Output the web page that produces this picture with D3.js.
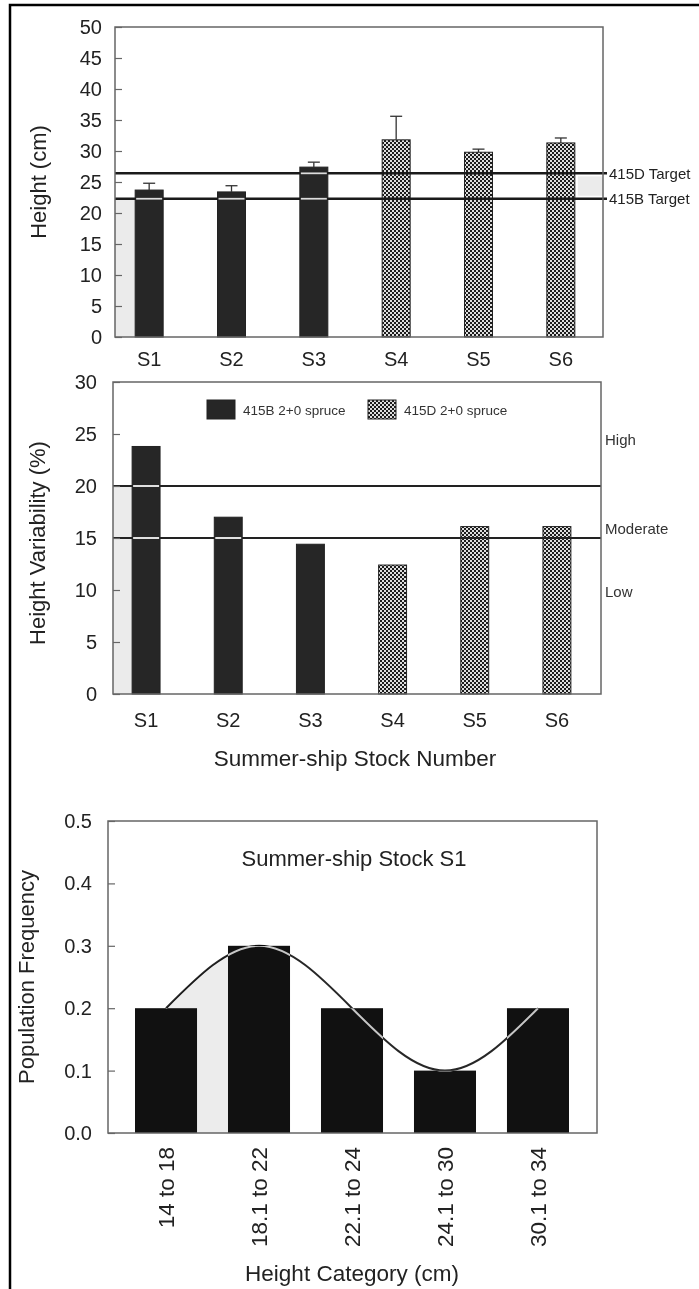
<!DOCTYPE html>
<html>
<head>
<meta charset="utf-8">
<script src="https://cdn.jsdelivr.net/npm/d3@7"></script>
<style>
  body { margin: 0; background: #fff; }
  svg { display: block; font-family: "Liberation Sans", Arial, Helvetica, sans-serif; }
</style>
</head>
<body>
<svg width="699" height="1289"></svg>
<script>
// ---- data ----
var stocks = ["S1", "S2", "S3", "S4", "S5", "S6"];
var stockType = ["B", "B", "B", "D", "D", "D"];
var seriesNames = ["415B 2+0 spruce", "415D 2+0 spruce"];

var heightMean = [23.7, 23.4, 27.4, 31.8, 29.8, 31.3];
var heightErr = [1.1, 1.0, 0.8, 3.8, 0.5, 0.8];
var targetNames = ["415D Target", "415B Target"];
var targetValues = [26.4, 22.3];

var variability = [23.8, 17.0, 14.4, 12.4, 16.1, 16.1];
var classLimits = [20, 15];
var classNames = ["High", "Moderate", "Low"];
var classLabelAt = [24.4, 15.9, 9.8];

var heightCats = ["14 to 18", "18.1 to 22", "22.1 to 24", "24.1 to 30", "30.1 to 34"];
var catFreq = [0.2, 0.3, 0.2, 0.1, 0.2];

var svg = d3.select("svg");

// checkered fill used for the 415D stock
var pat = svg.append("defs").append("pattern")
  .attr("id", "check")
  .attr("width", 4).attr("height", 4)
  .attr("patternUnits", "userSpaceOnUse");
pat.append("rect").attr("width", 4).attr("height", 4).attr("fill", "#dedede");
pat.append("rect").attr("width", 2).attr("height", 2).attr("fill", "#1c1c1c");
pat.append("rect").attr("x", 2).attr("y", 2).attr("width", 2).attr("height", 2).attr("fill", "#1c1c1c");

var barFill = t => t === "B" ? "#262626" : "url(#check)";

// outer frame of the page
svg.append("path")
  .attr("d", "M10,1289V5H699")
  .attr("fill", "none")
  .attr("stroke", "#000")
  .attr("stroke-width", 2.5);

function leftAxis(g, y, ticks, fmt, pad) {
  g.call(d3.axisLeft(y).tickValues(ticks).tickFormat(fmt).tickSize(-7).tickPadding(pad))
    .attr("font-family", null)
    .attr("font-size", 20);
  g.select(".domain").remove();
  g.selectAll(".tick line").attr("stroke", "#666").attr("stroke-width", 1.2);
  g.selectAll(".tick text").attr("fill", "#222");
}

function bottomLabels(g, x, pad, size) {
  g.call(d3.axisBottom(x).tickSize(0).tickPadding(pad))
    .attr("font-family", null)
    .attr("font-size", size || 20);
  g.select(".domain").remove();
  g.selectAll(".tick text").attr("fill", "#222");
}

function frame(g, x0, x1, y0, y1) {
  g.append("rect")
    .attr("x", x0).attr("y", y0)
    .attr("width", x1 - x0).attr("height", y1 - y0)
    .attr("fill", "none")
    .attr("stroke", "#666")
    .attr("stroke-width", 1.5);
}

function title(text, x, y, size, rotate) {
  svg.append("text")
    .attr("transform", `translate(${x},${y})` + (rotate ? " rotate(-90)" : ""))
    .attr("text-anchor", "middle")
    .attr("dy", "0.35em")
    .attr("fill", "#222")
    .style("font-size", size + "px")
    .text(text);
}

// ================= top panel : mean height =================
var yH = d3.scaleLinear().domain([0, 50]).range([337, 27]);
var xH = d3.scaleBand().domain(stocks).range([108, 602]).paddingInner(0.66).paddingOuter(0.33);
var g1 = svg.append("g");
var L1 = 115, R1 = 603;

// pale shading from the scan
g1.append("rect")
  .attr("x", L1).attr("y", yH(targetValues[1]))
  .attr("width", xH("S1") - L1).attr("height", yH(0) - yH(targetValues[1]))
  .attr("fill", "#ebebeb");
g1.append("rect")
  .attr("x", xH("S6") + xH.bandwidth() + 3).attr("y", yH(targetValues[0]) + 3)
  .attr("width", R1 - xH("S6") - xH.bandwidth() - 3).attr("height", yH(targetValues[1]) - yH(targetValues[0]) - 6)
  .attr("fill", "#ebebeb");

g1.selectAll(".bar")
  .data(stocks)
  .enter().append("rect")
  .attr("class", "bar")
  .attr("x", d => xH(d))
  .attr("y", (d, i) => yH(heightMean[i]))
  .attr("width", xH.bandwidth())
  .attr("height", (d, i) => yH(0) - yH(heightMean[i]))
  .attr("fill", (d, i) => barFill(stockType[i]))
  .attr("stroke", "#222")
  .attr("stroke-width", 1);

// error bars (upper only)
var err = g1.selectAll(".err")
  .data(stocks)
  .enter().append("g")
  .attr("class", "err")
  .attr("stroke", "#333")
  .attr("stroke-width", 1.3);
err.append("line")
  .attr("x1", d => xH(d) + xH.bandwidth() / 2)
  .attr("x2", d => xH(d) + xH.bandwidth() / 2)
  .attr("y1", (d, i) => yH(heightMean[i]))
  .attr("y2", (d, i) => yH(heightMean[i] + heightErr[i]));
err.append("line")
  .attr("x1", d => xH(d) + xH.bandwidth() / 2 - 6)
  .attr("x2", d => xH(d) + xH.bandwidth() / 2 + 6)
  .attr("y1", (d, i) => yH(heightMean[i] + heightErr[i]))
  .attr("y2", (d, i) => yH(heightMean[i] + heightErr[i]));

// target lines
targetValues.forEach(function (t, k) {
  g1.append("line")
    .attr("x1", L1).attr("x2", 607)
    .attr("y1", yH(t)).attr("y2", yH(t))
    .attr("stroke", "#1a1a1a")
    .attr("stroke-width", 2.5);
  // the line shows light where it crosses a dark bar
  stocks.forEach(function (s, i) {
    if (stockType[i] === "B" && heightMean[i] > t) {
      g1.append("line")
        .attr("x1", xH(s) + 1).attr("x2", xH(s) + xH.bandwidth() - 1)
        .attr("y1", yH(t)).attr("y2", yH(t))
        .attr("stroke", "#dcdcdc")
        .attr("stroke-width", 1.8);
    }
  });
  g1.append("text")
    .attr("x", 609).attr("y", yH(t))
    .attr("dy", "0.35em")
    .attr("fill", "#222")
    .style("font-size", "15px")
    .text(targetNames[k]);
});

frame(g1, L1, R1, yH(50), yH(0));
leftAxis(g1.append("g").attr("transform", `translate(${L1},0)`), yH, d3.range(0, 51, 5), d3.format("d"), 13);
bottomLabels(g1.append("g").attr("transform", `translate(0,${yH(0)})`), xH, 15);
title("Height (cm)", 38, 182, 22, true);

// ================= middle panel : height variability =================
var yV = d3.scaleLinear().domain([0, 30]).range([694, 382]);
var xV = d3.scaleBand().domain(stocks).range([105, 598]).paddingInner(0.66).paddingOuter(0.33);
var g2 = svg.append("g");
var L2 = 113, R2 = 601;

g2.append("rect")
  .attr("x", L2).attr("y", yV(classLimits[0]))
  .attr("width", xV("S1") - L2).attr("height", yV(0) - yV(classLimits[0]))
  .attr("fill", "#ebebeb");

g2.selectAll(".bar")
  .data(stocks)
  .enter().append("rect")
  .attr("class", "bar")
  .attr("x", d => xV(d))
  .attr("y", (d, i) => yV(variability[i]))
  .attr("width", xV.bandwidth())
  .attr("height", (d, i) => yV(0) - yV(variability[i]))
  .attr("fill", (d, i) => barFill(stockType[i]))
  .attr("stroke", "#222")
  .attr("stroke-width", 1);

classLimits.forEach(function (c) {
  g2.append("line")
    .attr("x1", L2).attr("x2", R2)
    .attr("y1", yV(c)).attr("y2", yV(c))
    .attr("stroke", "#222")
    .attr("stroke-width", 2);
  stocks.forEach(function (s, i) {
    if (stockType[i] === "B" && variability[i] > c) {
      g2.append("line")
        .attr("x1", xV(s) + 1).attr("x2", xV(s) + xV.bandwidth() - 1)
        .attr("y1", yV(c)).attr("y2", yV(c))
        .attr("stroke", "#e0e0e0")
        .attr("stroke-width", 2);
    }
  });
});

g2.selectAll(".cls")
  .data(classNames)
  .enter().append("text")
  .attr("class", "cls")
  .attr("x", 605)
  .attr("y", (d, i) => yV(classLabelAt[i]))
  .attr("dy", "0.35em")
  .attr("fill", "#333")
  .style("font-size", "15px")
  .text(d => d);

// legend
var leg = g2.selectAll(".leg")
  .data(seriesNames)
  .enter().append("g")
  .attr("class", "leg")
  .attr("transform", (d, i) => `translate(${i ? 368 : 207},400)`);
leg.append("rect")
  .attr("width", 28).attr("height", 19)
  .attr("fill", (d, i) => barFill(i ? "D" : "B"))
  .attr("stroke", "#222");
leg.append("text")
  .attr("x", 36).attr("y", 10)
  .attr("dy", "0.35em")
  .attr("fill", "#333")
  .style("font-size", "13.5px")
  .text(d => d);

frame(g2, L2, R2, yV(30), yV(0));
leftAxis(g2.append("g").attr("transform", `translate(${L2},0)`), yV, d3.range(0, 31, 5), d3.format("d"), 16);
bottomLabels(g2.append("g").attr("transform", `translate(0,${yV(0)})`), xV, 19);
title("Height Variability (%)", 37, 543, 22, true);
title("Summer-ship Stock Number", 355, 758, 22.5, false);

// ================= bottom panel : frequency distribution =================
var yF = d3.scaleLinear().domain([0, 0.5]).range([1133, 821]);
var xF = d3.scaleBand().domain(heightCats).range([119.5, 584.5]).paddingInner(0.333).paddingOuter(0.1667);
var g3 = svg.append("g");
var L3 = 108, R3 = 597;
var cx = d => xF(d) + xF.bandwidth() / 2;

var curveLine = d3.line()
  .x((d, i) => cx(heightCats[i]))
  .y(d => yF(d))
  .curve(d3.curveNatural);
var curveArea = d3.area()
  .x((d, i) => cx(heightCats[i]))
  .y0(yF(0))
  .y1(d => yF(d))
  .curve(d3.curveNatural);

// pale fill under the rising part of the curve (as in the scan)
g3.append("clipPath").attr("id", "rise")
  .append("rect")
  .attr("x", cx(heightCats[0])).attr("y", yF(0.5))
  .attr("width", cx(heightCats[1]) - cx(heightCats[0]))
  .attr("height", yF(0) - yF(0.5));
g3.append("path")
  .datum(catFreq)
  .attr("d", curveArea)
  .attr("fill", "#ececec")
  .attr("clip-path", "url(#rise)");

g3.selectAll(".bar")
  .data(heightCats)
  .enter().append("rect")
  .attr("class", "bar")
  .attr("x", d => xF(d))
  .attr("y", (d, i) => yF(catFreq[i]))
  .attr("width", xF.bandwidth())
  .attr("height", (d, i) => yF(0) - yF(catFreq[i]))
  .attr("fill", "#111");

// fitted curve: dark on paper, light across the black bars
g3.append("path")
  .datum(catFreq)
  .attr("d", curveLine)
  .attr("fill", "none")
  .attr("stroke", "#d8d8d8")
  .attr("stroke-width", 2)
  .style("mix-blend-mode", "difference");

frame(g3, L3, R3, yF(0.5), yF(0));
leftAxis(g3.append("g").attr("transform", `translate(${L3},0)`), yF, d3.range(0, 0.51, 0.1), d3.format(".1f"), 16);

var xa = g3.append("g").attr("transform", `translate(0,${yF(0)})`);
bottomLabels(xa, xF, 14, 22.5);
xa.selectAll(".tick text")
  .attr("transform", "rotate(-90)")
  .attr("x", -14)
  .attr("y", 0)
  .attr("dy", "0.35em")
  .style("text-anchor", "end");

title("Summer-ship Stock S1", 354, 858, 22, false);
title("Population Frequency", 26, 977, 22, true);
title("Height Category (cm)", 352, 1273, 22.5, false);
</script>
</body>
</html>
